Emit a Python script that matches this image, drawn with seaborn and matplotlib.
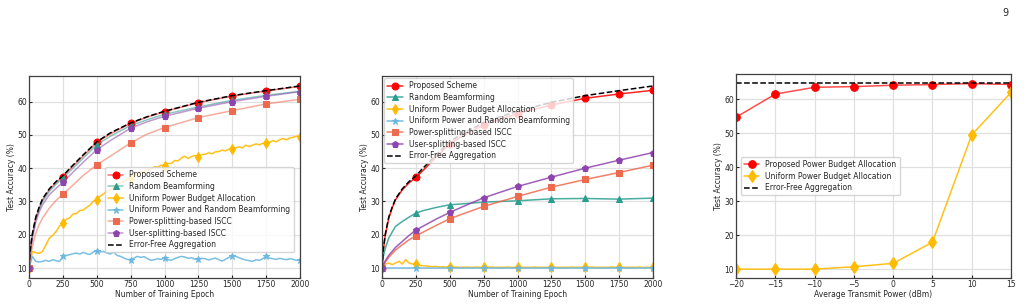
import numpy as np
import pandas as pd
import matplotlib
matplotlib.use("Agg")
import matplotlib.pyplot as plt
import seaborn as sns

# ---------------- data ----------------
epochs_s = [0, 10, 25, 50, 75, 100, 150, 200, 250, 300, 400, 500, 600, 750, 875, 1000, 1250, 1500, 1750, 2000]
epochs_n = list(range(0, 2001, 25))

# Panel 1
p1_proposed = [10, 15.5, 20, 25, 28, 30.5, 33.5, 35.7, 37.5, 39.6, 43.7, 47.8, 50.3, 53.5, 55.4, 57, 59.7, 61.7, 63.2, 64.6]
p1_errfree = [10, 15.8, 20.3, 25.3, 28.3, 30.8, 33.8, 36, 37.7, 39.9, 44, 47.9, 50.6, 53.6, 55.5, 57.1, 59.8, 61.8, 63.3, 64.7]
p1_randbf = [10, 15.2, 19.6, 24.5, 27.5, 30, 33, 35.2, 37, 39, 43, 47, 49.6, 52.8, 54.6, 56.2, 58.4, 60.4, 61.9, 63.1]
p1_usersplit = [10, 14.8, 19, 23.8, 26.8, 29, 32, 34, 35.7, 37.8, 41.8, 45.5, 48.3, 52, 54, 55.6, 58, 60, 61.6, 63]
p1_powersplit = [10, 13.5, 16.5, 20.5, 23, 25, 28, 30.3, 32.2, 34, 37.8, 41, 43.6, 47.6, 50.3, 52.2, 55.2, 57.3, 59.3, 60.7]
p1_uniform = [10, 15.0, 14.6, 14.4, 15.0, 17.0, 19.0, 19.8, 21.0, 22.6, 23.5, 24.6, 25.1, 26.2, 26.4, 27.3, 27.4, 28.2, 28.9, 30.1,
              30.5, 31.6, 32.3, 33.1, 33.4, 34.2, 34.7, 35.6, 35.9, 36.7, 37.0, 37.7, 38.1, 38.9, 38.8, 39.7, 39.6, 40.4, 40.3, 40.9,
              40.8, 41.4, 41.4, 42.3, 42.2, 43.1, 43.6, 42.9, 43.5, 43.8, 43.5, 44.1, 44.2, 44.6, 44.3, 44.9, 45.0, 45.4, 45.2, 45.7,
              45.8, 46.1, 46.4, 46.1, 46.9, 46.5, 46.9, 47.3, 47.0, 47.5, 47.5, 47.7, 48.3, 47.9, 48.6, 48.9, 48.5, 49.1, 49.3, 49.6,
              49.5]
p1_unifrbf = [10, 13.5, 12.0, 11.8, 12.0, 12.3, 12.0, 12.5, 12.2, 12.0, 13.5, 13.8, 14.0, 14.3, 14.5, 14.2, 14.7, 14.3, 14.1, 14.8,
              15.2, 14.8, 15.0, 14.5, 14.2, 14.8, 13.8, 13.5, 13.0, 12.6, 12.5, 13.0, 13.5, 13.2, 13.4, 12.8, 12.3, 12.5, 12.8, 12.6,
              13.0, 12.5, 12.3, 12.8, 13.2, 13.5, 13.3, 12.9, 13.1, 12.6, 12.7, 12.9, 12.8, 12.4, 12.7, 13.0, 12.5, 12.1, 12.6, 13.2,
              13.6, 13.5, 13.1, 12.7, 12.4, 12.2, 12.0, 12.5, 12.3, 12.8, 13.6, 13.0, 12.8, 12.6, 12.9, 12.7, 12.5, 12.8, 12.6, 12.3,
              12.5]

# Panel 2
p2_proposed = [10, 15.5, 20, 25, 28, 30.5, 33.5, 35.6, 37.2, 39.2, 43.3, 47.3, 49.8, 53, 54.8, 56.4, 59, 61, 62.3, 63.4]
p2_errfree = p1_errfree
p2_randbf = [10, 13.5, 16, 19, 20.8, 22.5, 24, 25.3, 26.5, 27.2, 28.2, 29, 29.3, 29.8, 30, 30.2, 30.8, 30.9, 30.7, 31]
p2_usersplit = [10, 11, 12.2, 13.8, 15, 16.2, 18, 19.8, 21.4, 22.5, 24.7, 26.7, 28.5, 31.1, 32.8, 34.5, 37.3, 40, 42.4, 44.7]
p2_powersplit = [10, 10.8, 11.8, 13.2, 14.3, 15.4, 17, 18.5, 19.7, 20.7, 22.8, 24.8, 26.3, 28.5, 30, 31.5, 34.3, 36.6, 38.7, 40.9]
p2_uniform = [10, 11.2, 11.5, 11.0, 11.5, 12.0, 11.2, 12.5, 11.5, 11.2, 11.3, 10.8, 10.7, 10.6, 10.5, 10.4, 10.5, 10.3, 10.4, 10.3,
              10.4, 10.2, 10.3, 10.2, 10.2, 10.3, 10.2, 10.2, 10.3, 10.2, 10.2, 10.2, 10.3, 10.2, 10.2, 10.2, 10.2, 10.3, 10.2, 10.2,
              10.3, 10.2, 10.2, 10.2, 10.2, 10.3, 10.2, 10.2, 10.2, 10.2, 10.3, 10.2, 10.2, 10.2, 10.2, 10.2, 10.3, 10.2, 10.2, 10.2,
              10.2, 10.2, 10.3, 10.2, 10.2, 10.2, 10.2, 10.2, 10.3, 10.2, 10.3, 10.2, 10.2, 10.2, 10.2, 10.2, 10.3, 10.2, 10.2, 10.2,
              10.3]
p2_unifrbf = [10.0, 10.0, 10.0, 10.0, 10.0, 10.0, 10.0, 10.0, 10.0, 10.0, 10.0, 10.0, 10.0, 10.0, 10.0, 10.0, 10.0, 10.0, 10.0, 10.0]

# Panel 3
power_dbm = [-20, -15, -10, -5, 0, 5, 10, 15]
p3_proposed = [54.7, 61.5, 63.5, 63.7, 64.1, 64.3, 64.6, 64.3]
p3_uniform = [10.1, 10.1, 10.1, 10.8, 11.8, 18.0, 49.5, 62.0]
p3_errfree = 64.8

labels = ["Proposed Scheme", "Random Beamforming", "Uniform Power Budget Allocation",
          "Uniform Power and Random Beamforming", "Power-splitting-based ISCC",
          "User-splitting-based ISCC", "Error-Free Aggregation"]

# ---------------- style ----------------
sns.set_style("whitegrid")
plt.rcParams.update({
    "font.family": ["DejaVu Sans"],
    "font.size": 5.5,
    "axes.edgecolor": "0.25",
    "axes.linewidth": 0.9,
    "grid.color": "0.88",
    "grid.linewidth": 0.9,
    "xtick.direction": "in",
    "ytick.direction": "in",
    "xtick.major.size": 2.5,
    "ytick.major.size": 2.5,
    "xtick.bottom": True,
    "ytick.left": True,
    "xtick.labelsize": 5.5,
    "ytick.labelsize": 5.5,
    "axes.labelsize": 5.5,
    "xtick.major.pad": 1.5,
    "ytick.major.pad": 1.5,
})

C_RED = "#ff0000"
C_TEAL = "#2a9d8f"
C_YEL = "#ffbb00"
C_LBLUE = "#6cb8e0"
C_SALMON = "#ee6a4f"
C_PURP = "#8e44ad"

fig = plt.figure(figsize=(10.31, 3.06), dpi=100)
ax1 = fig.add_axes([29/1031, 28/306, 271/1031, 202/306])
ax2 = fig.add_axes([382/1031, 28/306, 271/1031, 202/306])
ax3 = fig.add_axes([736/1031, 28/306, 275/1031, 204/306])


def mk_idx(xs, step):
    return [i for i, e in enumerate(xs) if e % step == 0]


def draw(ax, x, y, color, marker, label, ms=4.5, lalpha=0.7, lw=1.1, step=250, ls="-"):
    rgba = matplotlib.colors.to_rgba(color, lalpha)
    sns.lineplot(x=x, y=y, ax=ax, color=rgba, lw=lw, ls=ls, marker=marker,
                 markevery=mk_idx(x, step) if marker else None,
                 markersize=ms, markerfacecolor=color, markeredgecolor=color,
                 label=label, sort=False, estimator=None)


def panel_12(ax, prop, rbf, uni, urbf, pws, usp, ef, alpha):
    draw(ax, epochs_s, prop, C_RED, "o", labels[0], ms=5, lalpha=alpha)
    draw(ax, epochs_s, rbf, C_TEAL, "^", labels[1], lalpha=alpha)
    draw(ax, epochs_n if len(uni) == len(epochs_n) else epochs_s, uni, C_YEL, "d", labels[2], ms=5, lalpha=0.9)
    draw(ax, epochs_n if len(urbf) == len(epochs_n) else epochs_s, urbf, C_LBLUE, "*", labels[3], ms=5, lalpha=0.9)
    draw(ax, epochs_s, pws, C_SALMON, "s", labels[4], lalpha=alpha)
    draw(ax, epochs_s, usp, C_PURP, "p", labels[5], lalpha=alpha)
    sns.lineplot(x=epochs_s, y=ef, ax=ax, color="black", lw=1.1, ls="--",
                 label=labels[6], sort=False, estimator=None)
    ax.set_xlim(0, 2000)
    ax.set_ylim(7, 67.7)
    ax.set_xticks(range(0, 2001, 250))
    ax.set_yticks([10, 20, 30, 40, 50, 60])
    ax.set_xlabel("Number of Training Epoch", labelpad=1)
    ax.set_ylabel("Test Accuracy (%)", labelpad=1)


panel_12(ax1, p1_proposed, p1_randbf, p1_uniform, p1_unifrbf, p1_powersplit, p1_usersplit, p1_errfree, 0.55)
panel_12(ax2, p2_proposed, p2_randbf, p2_uniform, p2_unifrbf, p2_powersplit, p2_usersplit, p2_errfree, 0.85)

leg_kw = dict(fontsize=5.5, frameon=True, fancybox=True, framealpha=0.8,
              edgecolor="0.8", borderpad=0.4, labelspacing=0.35, handlelength=2.0,
              handletextpad=0.8, borderaxespad=0.3)
ax1.legend(loc="lower right", bbox_to_anchor=(0.985, 0.115), **leg_kw)
ax2.legend(loc="upper left", **leg_kw)

# Panel 3
draw(ax3, power_dbm, p3_proposed, C_RED, "o", "Proposed Power Budget Allocation", ms=5.5, lalpha=0.7, step=5)
draw(ax3, power_dbm, p3_uniform, C_YEL, "d", "Uniform Power Budget Allocation", ms=6.5, lalpha=0.9, step=5)
ax3.axhline(p3_errfree, color="black", lw=1.1, ls="--", label="Error-Free Aggregation")
ax3.set_xlim(-20, 15)
ax3.set_ylim(7.5, 67.4)
ax3.set_xticks(power_dbm)
ax3.set_yticks([10, 20, 30, 40, 50, 60])
ax3.set_xlabel("Average Transmit Power (dBm)", labelpad=1)
ax3.set_ylabel("Test Accuracy (%)", labelpad=1)
ax3.legend(loc="center left", bbox_to_anchor=(0.01, 0.5), **leg_kw)

for ax in (ax1, ax2, ax3):
    ax.set_axisbelow(True)
    for s in ax.spines.values():
        s.set_visible(True)

fig.text(1005/1031, 1 - 13/306, "9", fontsize=7, ha="center", va="center")

fig.savefig("out.png", dpi=100)
